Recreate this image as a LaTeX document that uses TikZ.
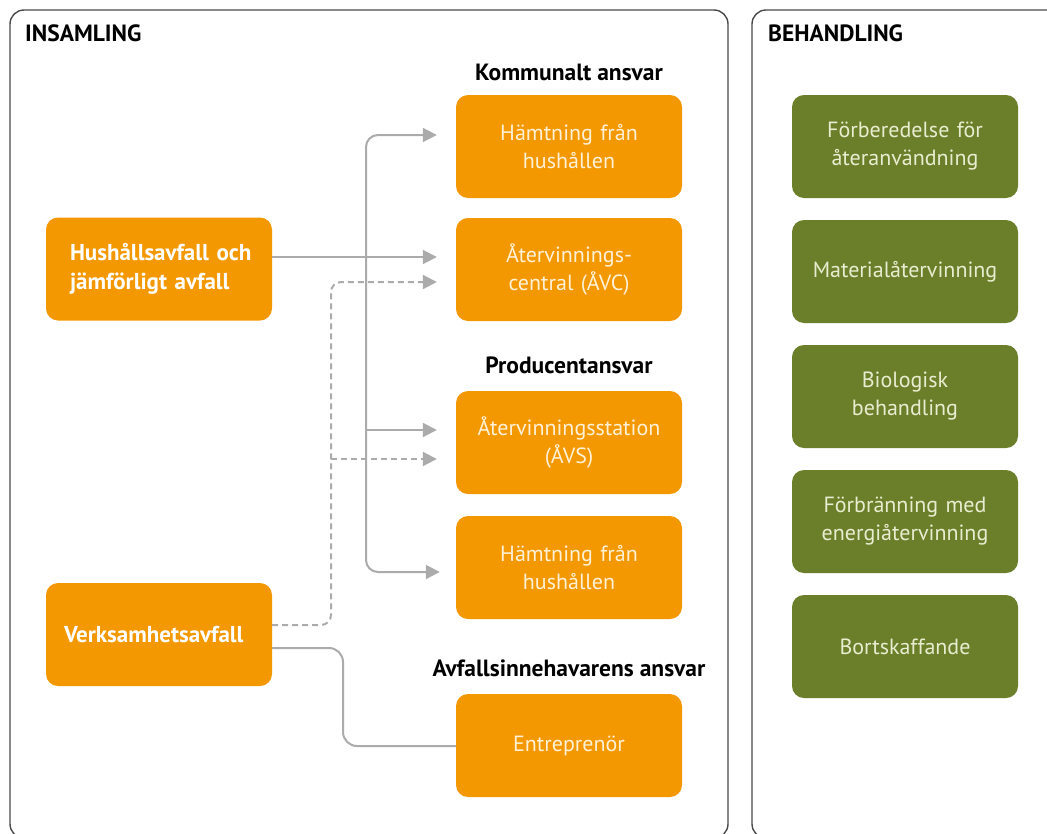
\documentclass[tikz,border=0pt]{standalone}
\usepackage{fontspec}
\setmainfont{PT Sans}
\usetikzlibrary{arrows.meta,calc}
\definecolor{orng}{HTML}{F39800}
\definecolor{grn}{HTML}{6B7F2B}
\definecolor{conngray}{HTML}{ABABAB}
\definecolor{frame}{HTML}{4A4A4A}
\definecolor{otext}{HTML}{FFF1D6}
\definecolor{gtext}{HTML}{E9EDD0}
\tikzset{
  obox/.style={rectangle, rounded corners=12pt, fill=orng, minimum width=226pt, minimum height=103pt, text width=216pt, align=center, text=otext, font=\fontsize{22}{28}\selectfont, inner sep=0pt},
  lbox/.style={rectangle, rounded corners=12pt, fill=orng, minimum width=226pt, minimum height=103pt, text width=200pt, align=left, text=white, font=\fontsize{23}{29}\selectfont\bfseries, inner sep=0pt},
  gbox/.style={rectangle, rounded corners=12pt, fill=grn, minimum width=226pt, minimum height=103pt, text width=216pt, align=center, text=gtext, font=\fontsize{22}{28}\selectfont, inner sep=0pt},
  heading/.style={font=\fontsize{23.5}{26}\selectfont\bfseries, text=black, inner sep=0pt},
  panel/.style={draw=frame, line width=1.4pt, rounded corners=14pt},
  conn/.style={draw=conngray, line width=2pt},
  arr/.style={conn, -{Triangle[length=14pt,width=14pt]}, shorten >=19pt},
  darr/.style={arr, dash pattern=on 6pt off 4pt},
}
\begin{document}
\begin{tikzpicture}[x=1pt,y=-1pt]
\useasboundingbox (0,0) rectangle (1047,833);
\clip (0,0) rectangle (1047,833);
\fill[white] (0,0) rectangle (1047,833);
% panels
\draw[panel] (10,838) rectangle (728,10);
\draw[panel] (752,838) rectangle (1070,10);
\node[heading, anchor=west] (t1) at (25,33) {INSAMLING};
\node[heading, anchor=west] (t2) at (768,33) {BEHANDLING};
% section labels
\node[heading] (k) at (569,72) {Kommunalt ansvar};
\node[heading] (p) at (569,365) {Producentansvar};
\node[heading] (a) at (569,668) {Avfallsinnehavarens ansvar};
% left boxes
\node[lbox] (hh) at (159,269) {\hspace*{11pt}Hushållsavfall och\\\hspace*{11pt}jämförligt avfall};
\node[lbox] (vk) at (159,634.5) {\hspace*{5pt}Verksamhetsavfall};
% right orange boxes
\node[obox] (h1) at (569,146.5) {Hämtning från\\hushållen};
\node[obox] (ac) at (569,269.5) {Återvinnings-\\central (ÅVC)};
\node[obox] (as) at (569,442.5) {Återvinningsstation\\(ÅVS)};
\node[obox] (h2) at (569,567.5) {Hämtning från\\hushållen};
\node[obox] (en) at (569,745.5) {Entreprenör};
% green boxes
\node[gbox] (g1) at (905,146.5) {Förberedelse för\\återanvändning};
\node[gbox] (g2) at (905,271.5) {Materialåtervinning};
\node[gbox] (g3) at (905,396.5) {Biologisk\\behandling};
\node[gbox] (g4) at (905,521.5) {Förbränning med\\energiåtervinning};
\node[gbox] (g5) at (905,646.5) {Bortskaffande};
% connectors
\coordinate (tr) at (366,430);
\coordinate (dt) at (331,459);
\draw[arr] (hh.east |- 0,257) -- (ac.west |- 0,257);
\draw[conn, {Triangle[length=14pt,width=14pt]}-{Triangle[length=14pt,width=14pt]}, shorten <=19pt, shorten >=16pt, rounded corners=12pt]
  (h1.west |- 0,135) -- (366,135) -- (366,572) -- (h2.west |- 0,572);
\draw[arr] (tr) -- (as.west |- tr);
\draw[darr, rounded corners=10pt] (vk.east |- 0,625) -- (331,625) -- (331,282) -- (ac.west |- 0,282);
\draw[darr] (dt) -- (as.west |- dt);
\draw[conn, rounded corners=14pt] (vk.east |- 0,648) -- (343,648) -- (343,746) -- (en.west |- 0,746);
\end{tikzpicture}
\end{document}
